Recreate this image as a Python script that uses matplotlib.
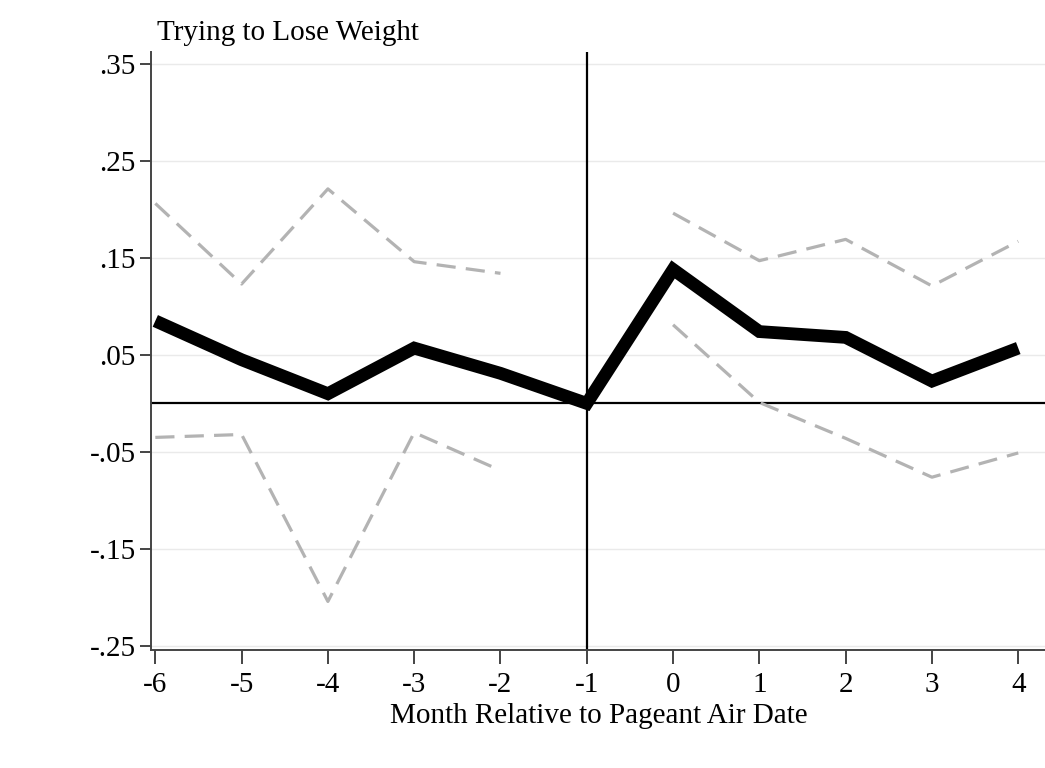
import matplotlib
matplotlib.use("Agg")
import matplotlib.pyplot as plt
import numpy as np

plt.rcParams['font.family'] = ['Liberation Serif', 'DejaVu Serif']

months_pre = [-6, -5, -4, -3, -2]
months_post = [0, 1, 2, 3, 4]
months_all = [-6, -5, -4, -3, -2, -1, 0, 1, 2, 3, 4]

estimate = [0.085, 0.045, 0.010, 0.057, 0.031, 0.0, 0.138, 0.074, 0.068, 0.023, 0.057]

upper_pre = [0.206, 0.123, 0.221, 0.146, 0.134]
lower_pre = [-0.035, -0.032, -0.204, -0.030, -0.069]
upper_post = [0.196, 0.147, 0.169, 0.121, 0.167]
lower_post = [0.081, 0.001, -0.036, -0.076, -0.051]

y_ticks = [0.35, 0.25, 0.15, 0.05, -0.05, -0.15, -0.25]
y_labels = ['.35', '.25', '.15', '.05', '-.05', '-.15', '-.25']
x_ticks = months_all

fig = plt.figure(figsize=(10.45, 7.68), dpi=100)
ax = fig.add_axes([151 / 1045, 1 - 650 / 768, (1045 - 151) / 1045, (650 - 52) / 768])

ax.set_xlim(-6.05, 4.31)
ax.set_ylim(-0.254, 0.362)

for yv in y_ticks:
    ax.axhline(yv, color='#eaeaea', lw=1.0, zorder=0)

ax.axhline(0, color='black', lw=1.6, zorder=2)
ax.axvline(-1, color='black', lw=1.6, zorder=2)

ci_style = dict(color='#b3b3b3', lw=2.3, dashes=(6, 3.2), zorder=3)
ax.plot(months_pre, upper_pre, **ci_style)
ax.plot(months_pre, lower_pre, **ci_style)
ax.plot(months_post, upper_post, **ci_style)
ax.plot(months_post, lower_post, **ci_style)

ax.plot(months_all, estimate, color='black', lw=9.2, solid_joinstyle='miter',
        solid_capstyle='butt', zorder=4)

ax.set_yticks(y_ticks)
ax.set_yticklabels(y_labels)
ax.set_xticks(x_ticks)
ax.set_xticklabels([str(m) for m in x_ticks])

for side in ['top', 'right']:
    ax.spines[side].set_visible(False)
for side in ['left', 'bottom']:
    ax.spines[side].set_color('#444444')
    ax.spines[side].set_linewidth(1.4)

ax.tick_params(axis='y', direction='out', length=8, width=1.4, color='#444444',
               labelsize=21, pad=3)
ax.tick_params(axis='x', direction='out', length=10, width=1.4, color='#444444',
               labelsize=21, pad=6)

ax.set_xlabel('Month Relative to Pageant Air Date', fontsize=21)
ax.xaxis.set_label_coords((599 - 151) / (1045 - 151), -(716 - 650) / (650 - 52))
ax.xaxis.label.set_va('center')

fig.text(157 / 1045, 1 - 33 / 768, 'Trying to Lose Weight', fontsize=21,
         ha='left', va='center')

fig.savefig('out.png', dpi=100, facecolor='white')
